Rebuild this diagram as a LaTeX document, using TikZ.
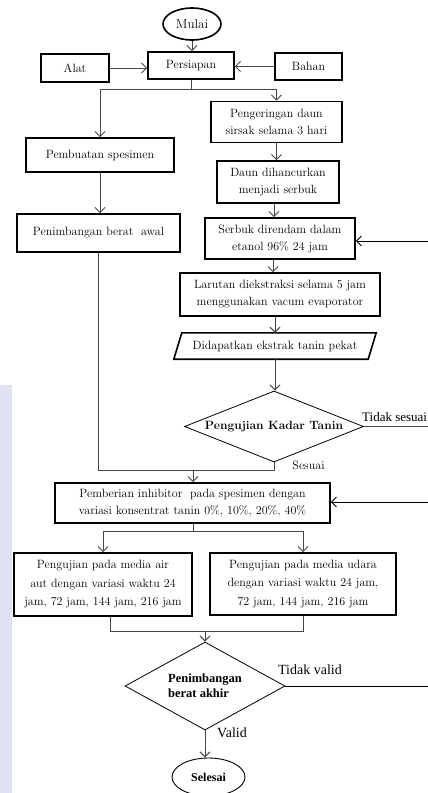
\documentclass[tikz,border=0pt]{standalone}
\usepackage{fontspec}
\newfontfamily\timesf{Liberation Serif}
\usetikzlibrary{arrows.meta,shapes.geometric,calc}
\definecolor{wm}{RGB}{223,226,240}
\begin{document}
\begin{tikzpicture}[x=1pt,y=-1pt,
  box/.style={draw, line width=1.6pt, align=center, inner sep=1pt, font=\fontsize{12}{17}\selectfont},
  arr/.style={draw=black!72, line width=1pt, -{Straight Barb[length=5pt,width=10pt]}},
  ln/.style={draw=black!72, line width=1pt},
  ext/.style={draw=black, line width=0.9pt, -{Straight Barb[length=5pt,width=10pt]}},
  dec/.style={diamond, draw, line width=0.8pt, inner sep=0pt, align=center},
  lbl/.style={inner sep=0pt, font=\timesf\fontsize{14}{16}\selectfont}
]
\useasboundingbox (0,0) rectangle (428,793);
\clip (0,0) rectangle (428,793);
\fill[wm] (0,385) rectangle (12,793);

% start
\node[ellipse, draw, line width=1.6pt, minimum width=58pt, minimum height=32pt, inner sep=0pt,
      font=\fontsize{13}{14}\selectfont] (mulai) at (192,24) {Mulai};
\node[box, minimum width=86pt, minimum height=27pt] (persiapan) at (191,65.5) {Persiapan};
\node[box, minimum width=68pt, minimum height=28pt] (alat) at (75,68) {Alat};
\node[box, minimum width=67pt, minimum height=27pt] (bahan) at (308.5,66.5) {Bahan};

% left column
\node[box, minimum width=148pt, minimum height=34pt] (pembuatan) at (100,155) {Pembuatan spesimen};
\node[box, minimum width=163pt, minimum height=38pt] (awal) at (98.5,233) {Penimbangan berat\ \ awal};

% right column
\node[box, minimum width=131pt, minimum height=41pt] (pengeringan) at (276.5,122) {Pengeringan daun\\sirsak selama 3 hari};
\node[box, minimum width=122pt, minimum height=42pt] (daun) at (278,182) {Daun dihancurkan\\menjadi serbuk};
\node[box, minimum width=150pt, minimum height=41pt] (serbuk) at (280,238.5) {Serbuk direndam dalam\\etanol 96\% 24 jam};
\node[box, minimum width=200pt, minimum height=43pt] (larutan) at (280,294.5) {Larutan diekstraksi selama 5 jam\\menggunakan vacum evaporator};
\node[inner sep=0pt, minimum width=202pt, minimum height=26pt, font=\fontsize{12}{14}\selectfont] (ekstrak) at (275,346) {Didapatkan ekstrak tanin pekat};
\draw[line width=1.6pt, line join=miter] ($(ekstrak.north west)+(8,0)$) -- (ekstrak.north east) -- ($(ekstrak.south east)+(-8,0)$) -- (ekstrak.south west) -- cycle;
\node[dec, aspect=2.52, minimum width=179pt, minimum height=71pt, font=\bfseries\fontsize{12}{14}\selectfont] (kadar) at (274,426.5) {Pengujian Kadar Tanin};

% merge
\node[box, minimum width=275pt, minimum height=40pt] (pemberian) at (192.5,503) {Pemberian inhibitor\ \ pada spesimen dengan\\variasi konsentrat tanin 0\%, 10\%, 20\%, 40\%};
\node[box, minimum width=178pt, minimum height=63pt, font=\fontsize{12}{18.5}\selectfont] (uji1) at (103,584.5) {Pengujian pada media air\\aut dengan variasi waktu 24\\jam, 72 jam, 144 jam, 216 jam};
\node[box, minimum width=186pt, minimum height=62pt, font=\fontsize{12}{18.5}\selectfont] (uji2) at (303,584) {Pengujian pada media udara\\dengan variasi waktu 24 jam,\\72 jam, 144 jam, 216 jam};
\node[dec, aspect=1.82, minimum width=160pt, minimum height=88pt, font=\timesf\bfseries\fontsize{12.5}{15}\selectfont, align=left] (akhir) at (205,686) {Penimbangan\\berat akhir};
\node[ellipse, draw, line width=0.9pt, minimum width=73pt, minimum height=38pt, inner sep=0pt,
      font=\timesf\bfseries\fontsize{12}{14}\selectfont] (selesai) at (208.5,777) {Selesai};

% coordinates
\coordinate (s1) at (191,89);
\coordinate (j1) at (193,470);
\coordinate (s2) at (193,531);
\coordinate (j2) at (205,631);
\coordinate (r1) at (430,241);
\coordinate (r2) at (430,426.5);
\coordinate (r3) at (430,502);
\coordinate (r4) at (430,686);

% connectors top
\draw[arr] (mulai.south) -- (mulai.south |- persiapan.north);
\draw[arr] (alat.east) -- (alat.east -| persiapan.west);
\draw[arr] (bahan.west) -- (bahan.west -| persiapan.east);
\draw[ln] (persiapan.south) -- (s1);
\draw[arr] (s1) -| (pembuatan.north);
\draw[arr] (s1) -| (pengeringan.north);
\draw[arr] (pembuatan.south) -- (pembuatan.south |- awal.north);
\draw[arr] (pengeringan.south) -- (pengeringan.south |- daun.north);
\draw[arr] ([xshift=-4pt]daun.south) -- ([xshift=-4pt]daun.south |- serbuk.north);
\draw[arr] ([xshift=-7pt]serbuk.south) -- ([xshift=-7pt]serbuk.south |- larutan.north);
\draw[arr] ([xshift=-5pt]larutan.south) -- ([xshift=-5pt]larutan.south |- ekstrak.north);
\draw[arr] (ekstrak.south) -- (ekstrak.south |- kadar.north);
\draw[ext] (r1) -- (r1 -| serbuk.east);

% decision 1
\draw[ln] (kadar.east) -- (r2);
\node[lbl, anchor=south west, font=\timesf\fontsize{13}{15}\selectfont] (tsesuai) at (362,422) {Tidak sesuai};
\draw[ln] (awal.south) -- (awal.south |- j1) -- (kadar.south |- j1) -- (kadar.south);
\node[inner sep=0pt, font=\fontsize{12}{14}\selectfont] (sesuai) at (308.5,465) {Sesuai};
\draw[arr] (j1) -- (j1 |- pemberian.north);
\draw[ext] (r3) -- (r3 -| pemberian.east);

% split 2
\draw[ln] (pemberian.south -| s2) -- (s2);
\draw[arr] (s2) -| (uji1.north);
\draw[arr] (s2) -| (uji2.north);
\draw[ln] ([xshift=7pt]uji1.south) |- (j2);
\draw[ln] (uji2.south) |- (j2);
\draw[arr] (j2) -- (j2 |- akhir.north);

% decision 2
\draw[ln, draw=black, line width=0.9pt] (akhir.east) -- (r4);
\node[lbl] (tvalid) at (310,670) {Tidak valid};
\draw[arr] (akhir.south) -- (akhir.south |- selesai.north);
\node[lbl] (valid) at (232,733) {Valid};
\end{tikzpicture}
\end{document}
